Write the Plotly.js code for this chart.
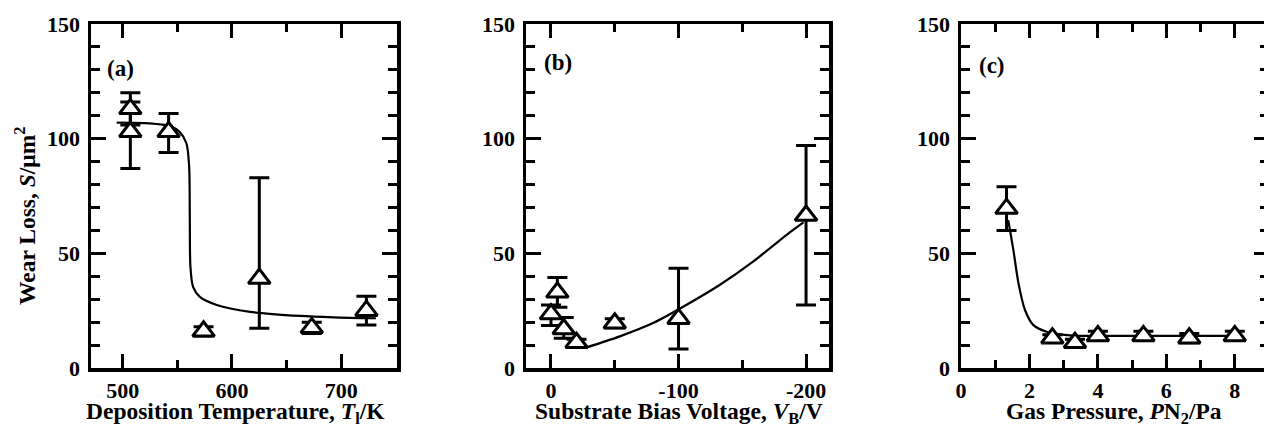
<!DOCTYPE html>
<html>
<head>
<meta charset="utf-8">
<script src="https://cdn.plot.ly/plotly-3.0.1.min.js"></script>
<style>
html,body{margin:0;padding:0;overflow:hidden;background:#fff;}
#chart{width:1272px;height:428px;}
</style>
</head>
<body>
<div id="chart"></div>
<script>
// ---------- Panel (a): deposition temperature ----------
const tempK      = [507, 507, 542, 574, 625, 673, 723];
const lossA      = [113, 103, 103, 16, 39, 17.5, 25];
const errA_plus  = [7, 13, 8, 2, 44, 2.5, 6.3];
const errA_minus = [7, 16, 9, 2, 21.7, 2.5, 6.3];
const fitA_x = [494.5, 524.6, 543, 552, 558.3, 560.8, 561.4, 562, 564.4, 570.6, 586, 616.6, 662.5, 693, 731.7];
const fitA_y = [107, 106.7, 105.5, 103, 98, 87.8, 66, 44, 35.4, 31, 27.5, 24.5, 22.7, 22.1, 21.7];

// ---------- Panel (b): substrate bias voltage ----------
const biasV      = [0, -5, -10, -20, -50, -100, -200];
const lossB      = [23.5, 33, 17, 11, 19.5, 21.5, 66.5];
const errB_plus  = [4, 6.5, 5, 1.5, 2, 22, 30.5];
const errB_minus = [5, 6.5, 4, 1.5, 2, 13.2, 39];
const fitB_x = [-28, -54, -80, -106.4, -132.5, -158.7, -184.8, -198];
const fitB_y = [9, 13.8, 19.6, 27.6, 36.3, 46.5, 58.1, 63.5];

// ---------- Panel (c): gas pressure ----------
const pressPa    = [1.33, 2.67, 3.33, 4.0, 5.33, 6.67, 8.0];
const lossC      = [69.5, 13, 11, 14, 14, 13, 14];
const errC       = [9.5, 1.5, 1.5, 2, 2, 2, 2];
const fitC_x = [1.38, 1.53, 1.68, 1.87, 2.11, 2.5, 3.28, 4.0, 5.33, 6.67, 8.0];
const fitC_y = [64.5, 51.5, 36.9, 25.3, 18.8, 15.8, 14.1, 14, 14, 14, 14];

// tick labels
const tickA = [500, 600, 700];
const tickB = [0, -100, -200];
const tickC = [0, 2, 4, 6, 8];
const tickY = [0, 50, 100, 150];

const FONT = '"Liberation Serif", "Times New Roman", serif';
const W = 1272, H = 428;

function lineTrace(x, y, xa, ya) {
  return {x, y, xaxis: xa, yaxis: ya, type: 'scatter', mode: 'lines',
    line: {color: '#000', width: 2.2, shape: 'spline', smoothing: 0.8},
    hoverinfo: 'skip', showlegend: false};
}
function ptTrace(x, y, ep, em, xa, ya) {
  return {x, y, xaxis: xa, yaxis: ya, type: 'scatter', mode: 'markers',
    marker: {symbol: 'triangle-up', size: 19, color: '#fff', line: {color: '#000', width: 3}},
    error_y: {type: 'data', symmetric: false, array: ep, arrayminus: em,
      color: '#000', thickness: 3, width: 10},
    showlegend: false};
}

const data = [
  lineTrace(fitA_x, fitA_y, 'x', 'y'),
  ptTrace(tempK, lossA, errA_plus, errA_minus, 'x', 'y'),
  lineTrace(fitB_x, fitB_y, 'x2', 'y2'),
  ptTrace(biasV, lossB, errB_plus, errB_minus, 'x2', 'y2'),
  lineTrace(fitC_x, fitC_y, 'x3', 'y3'),
  ptTrace(pressPa, lossC, errC, errC, 'x3', 'y3')
];

const tickFont = {family: FONT, size: 22, color: '#000', weight: 'bold'};
function xax(domPx, range, ticks, minorVals) {
  return {domain: [domPx[0] / W, domPx[1] / W], range, tickmode: 'array', tickvals: ticks,
    ticktext: ticks.map(String),
    ticks: 'inside', ticklen: 14, tickwidth: 3, tickcolor: '#000',
    minor: {tickmode: 'array', tickvals: minorVals, ticks: 'inside', ticklen: 8, tickwidth: 3, tickcolor: '#000'},
    showline: true, linewidth: 3.5, linecolor: '#000', mirror: 'ticks',
    showgrid: false, zeroline: false, tickfont: tickFont, ticklabelstandoff: 0,
    fixedrange: true};
}
function yax(anchor) {
  return {domain: [60 / H, 404 / H], range: [0, 150], anchor,
    tickmode: 'array', tickvals: tickY, ticktext: tickY.map(String),
    ticks: 'inside', ticklen: 15, tickwidth: 3, tickcolor: '#000',
    minor: {dtick: 10, ticks: 'inside', ticklen: 9, tickwidth: 3, tickcolor: '#000'},
    showline: true, linewidth: 3.5, linecolor: '#000', mirror: 'ticks',
    showgrid: false, zeroline: false, tickfont: tickFont, ticklabelstandoff: 3,
    fixedrange: true};
}

const titleFont = {family: FONT, size: 23.5, color: '#000', weight: 'bold'};
const labFont = {family: FONT, size: 23, color: '#000', weight: 'bold'};
function ann(text, x, y, extra) {
  return Object.assign({text, x: x / W, y: 1 - y / H, xref: 'paper', yref: 'paper',
    showarrow: false, font: titleFont, xanchor: 'center', yanchor: 'middle'}, extra || {});
}

const layout = {
  width: W, height: H,
  margin: {l: 0, r: 0, t: 0, b: 0},
  paper_bgcolor: '#fff', plot_bgcolor: '#fff',
  xaxis:  Object.assign(xax([91, 397], [471, 751], tickA, [550, 650]), {anchor: 'y'}),
  xaxis2: Object.assign(xax([526, 829], [19.6, -218], tickB, [-50, -150]), {anchor: 'y2'}),
  xaxis3: Object.assign(xax([961, 1269], [0, 9], tickC, [1, 3, 5, 7]), {anchor: 'y3'}),
  yaxis:  yax('x'),
  yaxis2: yax('x2'),
  yaxis3: yax('x3'),
  annotations: [
    ann('Deposition Temperature, <i>T</i><sub>l</sub>/K', 236, 412.5),
    ann('Substrate Bias Voltage, <i>V</i><sub>B</sub>/V', 679, 412.5),
    ann('Gas Pressure, <i>P</i>N<sub>2</sub>/Pa', 1114, 412.5),
    ann('Wear Loss, <i>S</i>/μm<sup>2</sup>', 25, 216, {textangle: -90}),
    {text: '(a)', xref: 'x domain', yref: 'y domain', x: 0.046, y: 0.872, xanchor: 'left', yanchor: 'middle', showarrow: false, font: labFont},
    {text: '(b)', xref: 'x2 domain', yref: 'y2 domain', x: 0.052, y: 0.887, xanchor: 'left', yanchor: 'middle', showarrow: false, font: labFont},
    {text: '(c)', xref: 'x3 domain', yref: 'y3 domain', x: 0.051, y: 0.880, xanchor: 'left', yanchor: 'middle', showarrow: false, font: labFont}
  ]
};

Plotly.newPlot('chart', data, layout, {displayModeBar: false, staticPlot: true});
</script>
</body>
</html>
